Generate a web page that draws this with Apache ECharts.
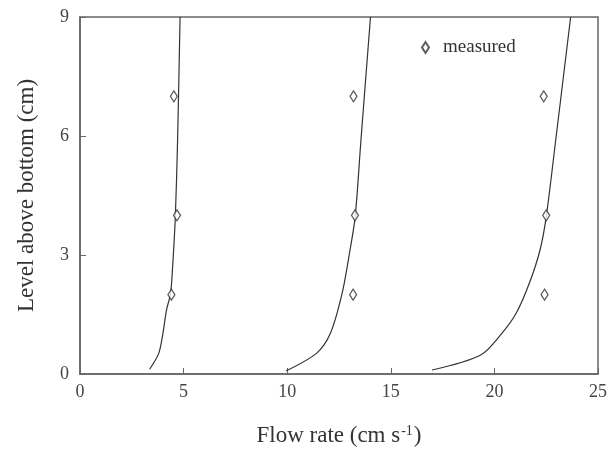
<!DOCTYPE html>
<html>
<head>
<meta charset="utf-8">
<script src="https://cdn.jsdelivr.net/npm/echarts@6/dist/echarts.min.js"></script>
<style>
  html, body { margin: 0; padding: 0; background: #fff; }
  #main { width: 614px; height: 454px; }
</style>
</head>
<body>
<div id="main"></div>
<script>
// computed profiles (x = flow rate, y = level)
var curve1 = [[3.36, 0.12], [3.8, 0.52], [4.0, 1.02], [4.17, 1.6], [4.37, 2.03], [4.47, 2.7], [4.6, 3.96], [4.71, 5.9], [4.83, 9]];
var curve2 = [[9.95, 0.08], [11.41, 0.52], [12.08, 1.02], [12.65, 2.03], [13.03, 3.12], [13.28, 3.96], [13.56, 5.9], [14.02, 9]];
var curve3 = [[16.99, 0.1], [19.34, 0.48], [20.35, 1.02], [21.05, 1.53], [21.68, 2.28], [22.2, 3.12], [22.5, 3.96], [22.96, 5.9], [23.68, 9]];

// measured points
var measured = [
    [4.41, 2], [4.68, 4], [4.53, 7],
    [13.18, 2], [13.27, 4], [13.2, 7],
    [22.42, 2], [22.5, 4], [22.38, 7]
];

var xTicks = [0, 5, 10, 15, 20, 25];
var yTicks = [0, 3, 6, 9];

var myChart = echarts.init(document.getElementById('main'));

var font = '"Liberation Serif", "DejaVu Serif", serif';

function lineSeries(name, data) {
    return {
        name: name,
        type: 'line',
        data: data,
        symbol: 'none',
        smooth: 0.3,
        lineStyle: { color: '#333', width: 1.2 },
        z: 2
    };
}

option = {
    animation: false,
    backgroundColor: '#fff',
    grid: {
        left: 80,
        right: 16,
        top: 17,
        bottom: 80,
        show: true,
        borderColor: '#666',
        borderWidth: 1.5
    },
    legend: {
        data: ['measured'],
        left: 416,
        top: 33,
        itemWidth: 7,
        itemHeight: 11,
        textStyle: { fontFamily: font, fontSize: 19, color: '#333', padding: [0, 0, 0, 9] }
    },
    xAxis: {
        type: 'value',
        min: xTicks[0],
        max: xTicks[xTicks.length - 1],
        interval: 5,
        name: '{a|Flow rate (cm s}{s|-1}{a|)}',
        nameLocation: 'middle',
        nameGap: 50,
        nameTextStyle: {
            rich: {
                a: { fontFamily: font, fontSize: 23, color: '#333' },
                s: { fontFamily: font, fontSize: 14, color: '#333', verticalAlign: 'top', padding: [0, 1, 10, 1] }
            }
        },
        axisLine: { lineStyle: { color: '#666', width: 1.5 } },
        axisTick: { inside: true, length: 6, lineStyle: { color: '#666' } },
        axisLabel: { fontFamily: font, fontSize: 18, color: '#444', margin: 9 },
        splitLine: { show: false }
    },
    yAxis: {
        type: 'value',
        min: yTicks[0],
        max: yTicks[yTicks.length - 1],
        interval: 3,
        name: 'Level above bottom (cm)',
        nameLocation: 'middle',
        nameGap: 42,
        nameTextStyle: { fontFamily: font, fontSize: 23, color: '#333' },
        axisLine: { lineStyle: { color: '#666', width: 1.5 } },
        axisTick: { inside: true, length: 6, lineStyle: { color: '#666' } },
        axisLabel: { fontFamily: font, fontSize: 18, color: '#444', margin: 11 },
        splitLine: { show: false }
    },
    series: [
        lineSeries('profile 1', curve1),
        lineSeries('profile 2', curve2),
        lineSeries('profile 3', curve3),
        {
            name: 'measured',
            type: 'scatter',
            data: measured,
            symbol: 'diamond',
            symbolSize: [7, 11],
            itemStyle: { color: '#fff', borderColor: '#333', borderWidth: 1.3 },
            z: 3
        }
    ]
};
myChart.setOption(option);
</script>
</body>
</html>
